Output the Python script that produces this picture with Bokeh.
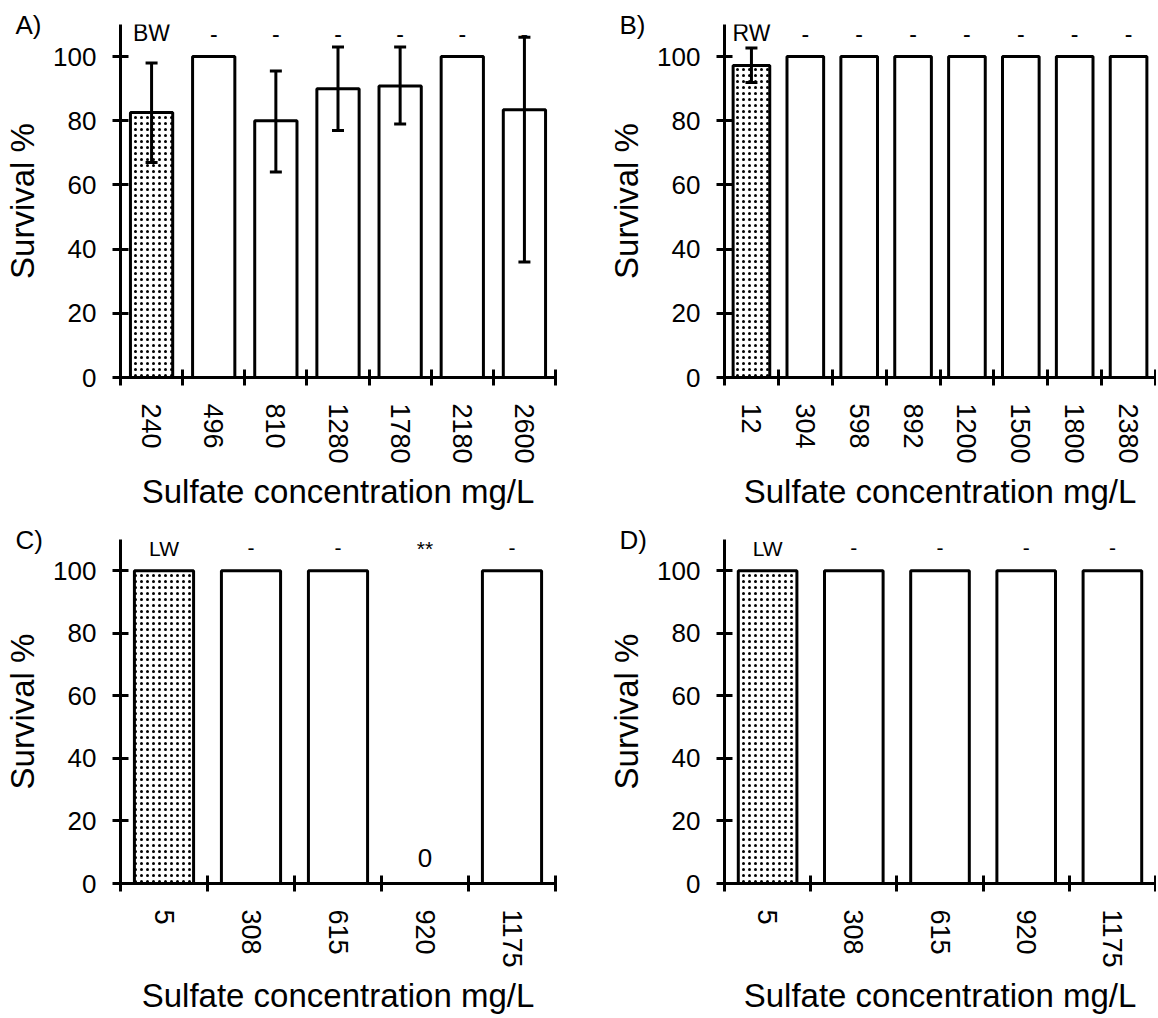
import numpy as np
from bokeh.plotting import figure
from bokeh.models import (Range1d, FixedTicker, Whisker, TeeHead, ColumnDataSource,
                          LabelSet, Title, CustomJSTickFormatter)
from bokeh.layouts import column, row
from bokeh.embed import file_html
from bokeh.resources import INLINE
from bokeh.core.properties import value

# ---------------- data ----------------
a_conc = ["240", "496", "810", "1280", "1780", "2180", "2600"]
a_surv = [82.6, 100, 80, 90, 90.8, 100, 83.4]
a_upper = [98, None, 95.5, 103, 103, None, 106]
a_lower = [67, None, 64, 77, 79, None, 36]
a_marks = ["BW", "-", "-", "-", "-", "-", "-"]

b_conc = ["12", "304", "598", "892", "1200", "1500", "1800", "2380"]
b_surv = [97.2, 100, 100, 100, 100, 100, 100, 100]
b_upper = [102.7, None, None, None, None, None, None, None]
b_lower = [91.9, None, None, None, None, None, None, None]
b_marks = ["RW", "-", "-", "-", "-", "-", "-", "-"]

c_conc = ["5", "308", "615", "920", "1175"]
c_surv = [100, 100, 100, 0, 100]
c_marks = ["LW", "-", "-", "**", "-"]

d_conc = ["5", "308", "615", "920", "1175"]
d_surv = [100, 100, 100, 100, 100]
d_marks = ["LW", "-", "-", "-", "-"]

y_ticks = [0, 20, 40, 60, 80, 100]

FONT = "Liberation Sans"


def panel(letter, conc, surv, upper, lower, marks, w, h, left, right, top, bottom,
          mark_size):
    n = len(conc)
    x = np.arange(n) + 0.5
    p = figure(width=w, height=h, x_range=Range1d(0, n), y_range=Range1d(0, 110),
               output_backend="svg", toolbar_location=None, tools="",
               min_border_left=left, min_border_right=right,
               min_border_top=top, min_border_bottom=bottom)
    p.grid.visible = False
    p.outline_line_color = None
    p.background_fill_color = "white"
    p.border_fill_color = "white"

    hatch = ["dot"] + [" "] * (n - 1)
    src = ColumnDataSource(dict(x=x, top=surv, hatch=hatch))
    p.vbar(x="x", top="top", bottom=0, width=0.68, source=src,
           fill_color="white", line_color="black", line_width=3,
           hatch_pattern="hatch", hatch_color="black", hatch_scale=6,
           hatch_weight=0.8)

    # error bars
    if upper is not None:
        idx = [i for i in range(n) if upper[i] is not None]
        esrc = ColumnDataSource(dict(x=[x[i] for i in idx],
                                     upper=[upper[i] for i in idx],
                                     lower=[lower[i] for i in idx]))
        wk = Whisker(source=esrc, base="x", upper="upper", lower="lower",
                     line_width=3, line_color="black", level="overlay",
                     upper_head=TeeHead(size=12, line_width=3, line_color="black"),
                     lower_head=TeeHead(size=12, line_width=3, line_color="black"))
        p.add_layout(wk)

    # significance marks above bars
    msrc = ColumnDataSource(dict(x=x, y=[107.2] * n, t=marks))
    p.add_layout(LabelSet(x="x", y="y", text="t", source=msrc,
                          text_font=value(FONT), text_font_size=value(mark_size),
                          text_align="center", text_baseline="middle",
                          text_color="black"))

    # zero-survival value labels
    zx = [xi for xi, s in zip(x, surv) if s == 0]
    if zx:
        zsrc = ColumnDataSource(dict(x=zx, y=[8] * len(zx),
                                     t=[str(int(s)) for s in surv if s == 0]))
        p.add_layout(LabelSet(x="x", y="y", text="t", source=zsrc,
                              text_font=value(FONT), text_font_size=value("26px"),
                              text_align="center", text_baseline="middle",
                              text_color="black"))

    # panel letter (as title, pulled down beside the axis top)
    p.add_layout(Title(text=letter, align="left", offset=-105, standoff=-30,
                       text_font=FONT, text_font_size="26px",
                       text_font_style="normal", text_color="black"), "above")

    # x axis
    xa = p.xaxis[0]
    xa.ticker = FixedTicker(ticks=list(x), minor_ticks=list(range(n + 1)))
    xa.formatter = CustomJSTickFormatter(args=dict(labels=conc),
                                         code="return labels[Math.floor(tick)] || '';")
    xa.major_tick_in = 0
    xa.major_tick_out = 0
    xa.minor_tick_in = 8
    xa.minor_tick_out = 8
    xa.minor_tick_line_width = 3
    xa.minor_tick_line_color = "black"
    xa.axis_line_width = 3
    xa.axis_line_color = "black"
    xa.major_label_orientation = "vertical"
    xa.major_label_standoff = 18
    xa.major_label_text_font = FONT
    xa.major_label_text_font_size = "27px"
    xa.major_label_text_color = "black"
    xa.axis_label = "Sulfate concentration mg/L"
    xa.axis_label_text_font = FONT
    xa.axis_label_text_font_size = "33px"
    xa.axis_label_text_font_style = "normal"
    xa.axis_label_text_color = "black"
    xa.axis_label_standoff = 6

    # y axis
    ya = p.yaxis[0]
    ya.ticker = FixedTicker(ticks=y_ticks, minor_ticks=[])
    ya.major_tick_in = 8
    ya.major_tick_out = 8
    ya.major_tick_line_width = 3
    ya.major_tick_line_color = "black"
    ya.minor_tick_line_color = None
    ya.axis_line_width = 3
    ya.axis_line_color = "black"
    ya.major_label_standoff = 16
    ya.major_label_text_font = FONT
    ya.major_label_text_font_size = "26px"
    ya.major_label_text_color = "black"
    ya.axis_label = "Survival %"
    ya.axis_label_text_font = FONT
    ya.axis_label_text_font_size = "33px"
    ya.axis_label_text_font_style = "normal"
    ya.axis_label_text_color = "black"
    ya.axis_label_standoff = 9
    return p


H1, H2 = 512, 504
WA, WB = 590, 566
pA = panel("A)", a_conc, a_surv, a_upper, a_lower, a_marks, WA, H1, 120, WA - 555, 24, H1 - 380, "23px")
pB = panel("B)", b_conc, b_surv, b_upper, b_lower, b_marks, WB, H1, 134, 1, 24, H1 - 380, "23px")
pC = panel("C)", c_conc, c_surv, None, None, c_marks, WA, H2, 120, WA - 555, 539 - H1, H1 + H2 - 895, "21px")
pD = panel("D)", d_conc, d_surv, None, None, d_marks, WB, H2, 134, 1, 539 - H1, H1 + H2 - 895, "21px")

layout = column(row(pA, pB), row(pC, pD))
open("out.html", "w").write(file_html(layout, INLINE))
